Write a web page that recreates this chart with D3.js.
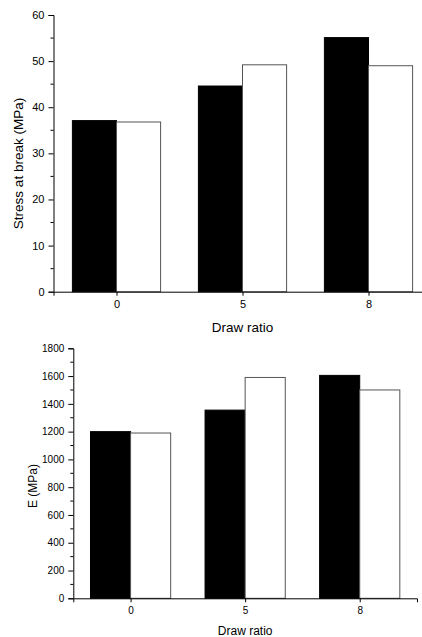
<!DOCTYPE html>
<html>
<head>
<meta charset="utf-8">
<script src="https://cdn.jsdelivr.net/npm/d3@7"></script>
<style>
  body { margin: 0; background: #fff; }
  svg { display: block; font-family: "Liberation Sans", Arial, sans-serif; }
</style>
</head>
<body>
<div id="chart"></div>
<script>
const drawRatios = ["0", "5", "8"];
const stressFilled = [37.1, 44.6, 55.1];
const stressOpen = [36.8, 49.2, 49.0];
const modulusFilled = [1200, 1355, 1605];
const modulusOpen = [1190, 1590, 1500];
const stressTicks = [0, 10, 20, 30, 40, 50, 60];
const modulusTicks = [0, 200, 400, 600, 800, 1000, 1200, 1400, 1600, 1800];

const width = 422, height = 637;

const svg = d3.select("#chart")
    .append("svg")
    .attr("width", width)
    .attr("height", height);

function drawPanel(cfg) {
    const x = d3.scalePoint()
        .domain(drawRatios)
        .range([cfg.left, cfg.right])
        .padding(0.5);
    const y = d3.scaleLinear()
        .domain(cfg.domain)
        .range([cfg.bottom, cfg.top]);
    const bw = x.step() * 0.35;

    const g = svg.append("g");

    // filled bars (left of tick)
    g.selectAll(".filled")
        .data(cfg.filled)
        .enter()
        .append("rect")
        .attr("x", (d, i) => x(drawRatios[i]) - bw)
        .attr("y", d => y(d))
        .attr("width", bw)
        .attr("height", d => y(0) - y(d))
        .attr("fill", "#000")
        .attr("stroke", "#000")
        .attr("stroke-width", 1);

    // open bars (right of tick)
    g.selectAll(".open")
        .data(cfg.open)
        .enter()
        .append("rect")
        .attr("x", (d, i) => x(drawRatios[i]))
        .attr("y", d => y(d))
        .attr("width", bw)
        .attr("height", d => y(0) - y(d))
        .attr("fill", "#fff")
        .attr("stroke", "#555")
        .attr("stroke-width", 1);

    // y axis
    const yAxis = g.append("g")
        .attr("transform", "translate(" + cfg.left + ",0)")
        .call(d3.axisLeft(y).tickValues(cfg.ticks).tickFormat(d3.format("d"))
            .tickSize(5).tickPadding(4));
    yAxis.select(".domain").attr("stroke", "#000");
    yAxis.selectAll("text").style("font-size", cfg.tickFont + "px").attr("fill", "#000");

    // minor ticks
    g.selectAll(".minor")
        .data(cfg.minor)
        .enter()
        .append("line")
        .attr("x1", cfg.left - 3)
        .attr("x2", cfg.left)
        .attr("y1", d => y(d))
        .attr("y2", d => y(d))
        .attr("stroke", "#000");

    // x axis
    const xAxis = g.append("g")
        .attr("transform", "translate(0," + y(0) + ")")
        .call(d3.axisBottom(x).tickSizeOuter(0).tickSize(4).tickPadding(5));
    xAxis.select(".domain").attr("stroke", "#000");
    xAxis.selectAll("text").style("font-size", cfg.tickFont + "px").attr("fill", "#000");

    g.append("text")
        .attr("x", x(drawRatios[1]))
        .attr("y", cfg.xTitleY)
        .attr("text-anchor", "middle")
        .style("font-size", cfg.titleFont + "px")
        .text("Draw ratio");

    g.append("text")
        .attr("transform", "translate(" + cfg.yTitleX + "," + cfg.yTitleMid + ") rotate(-90)")
        .attr("text-anchor", "middle")
        .style("font-size", cfg.titleFont + "px")
        .text(cfg.yTitle);
}

drawPanel({
    left: 53.5, right: 431.5, top: 15, bottom: 291.7,
    domain: [0, 60], ticks: stressTicks,
    minor: d3.range(5, 60, 10),
    filled: stressFilled, open: stressOpen,
    tickFont: 11, titleFont: 13.5,
    xTitleY: 332,
    yTitleX: 22.5, yTitleMid: 163.5, yTitle: "Stress at break (MPa)"
});

drawPanel({
    left: 73.3, right: 417, top: 348.3, bottom: 598.3,
    domain: [0, 1800], ticks: modulusTicks,
    minor: d3.range(100, 1800, 200),
    filled: modulusFilled, open: modulusOpen,
    tickFont: 10, titleFont: 12,
    xTitleY: 635,
    yTitleX: 36.5, yTitleMid: 486, yTitle: "E (MPa)"
});
</script>
</body>
</html>
